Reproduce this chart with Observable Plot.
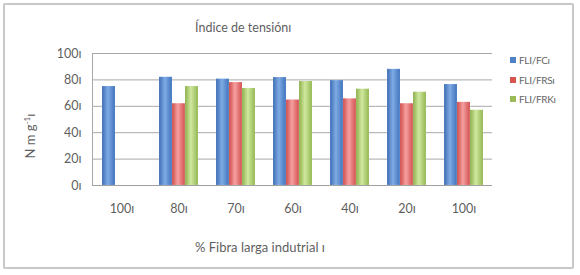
<!DOCTYPE html>
<html><head><meta charset="utf-8">
<script src="https://cdn.jsdelivr.net/npm/d3@7"></script>
<script src="https://cdn.jsdelivr.net/npm/@observablehq/plot@0.6"></script>
<style>
body{margin:0;background:#fff;}
#wrap{position:relative;width:580px;height:275px;font-family:"Lato","DejaVu Sans",sans-serif;color:#5f5f5f;overflow:hidden;}
#border{position:absolute;left:3px;top:3px;width:567px;height:262px;border:2px solid #c8c8c8;border-radius:2px;box-sizing:content-box;}
.t{position:absolute;white-space:nowrap;}
#chart{position:absolute;left:0;top:0;}
.leg{position:absolute;left:510px;font-size:10px;letter-spacing:-0.3px;color:#666;}
.leg span{display:inline-block;width:6px;height:6px;margin-right:3px;vertical-align:1px;}
</style></head><body>
<svg width="0" height="0" style="position:absolute">
  <defs>
    <linearGradient id="gBlue" x1="0" x2="1" y1="0" y2="0">
      <stop offset="0" stop-color="#3c6cb4"/>
      <stop offset="0.45" stop-color="#7fabe4"/>
      <stop offset="1" stop-color="#4073bd"/>
    </linearGradient>
    <linearGradient id="gRed" x1="0" x2="1" y1="0" y2="0">
      <stop offset="0" stop-color="#d04a4a"/>
      <stop offset="0.45" stop-color="#f5a0a0"/>
      <stop offset="1" stop-color="#d35050"/>
    </linearGradient>
    <linearGradient id="gGreen" x1="0" x2="1" y1="0" y2="0">
      <stop offset="0" stop-color="#8cb04a"/>
      <stop offset="0.45" stop-color="#d0e89f"/>
      <stop offset="1" stop-color="#93b751"/>
    </linearGradient>
  </defs>
</svg>
<div id="wrap">
  <div id="chart"></div>
  <div id="border"></div>
  <div class="t" id="title" style="left:195px;top:20px;font-size:12.5px;">Índice de tensiónı</div>
  <div class="t" id="ylab" style="left:30px;top:136px;font-size:13px;transform:translate(-50%,-50%) rotate(-90deg);">N m g<sup style="font-size:8px">-1</sup>ı</div>
  <div class="t" id="xlab" style="left:195px;top:239px;font-size:13px;">% Fibra larga indutrial ı</div>
  <div id="legend"></div>
</div>
<script>
const categories = ["100", "80", "70", "60", "40", "20", "100"];
const seriesNames = ["FLI/FCı", "FLI/FRSı", "FLI/FRKı"];
const fci = [75, 82, 80.6, 81.8, 79.5, 88, 76.5];
const frs = [null, 62, 78, 64.8, 65.7, 62, 63];
const frk = [null, 75, 73.5, 78.8, 73, 70.7, 57];
const yTicks = [0, 20, 40, 60, 80, 100];
const fills = ["url(#gBlue)", "url(#gRed)", "url(#gGreen)"];
const legendColors = ["#4f81c8", "#d9534f", "#9bbb59"];

const seriesValues = [fci, frs, frk];
const idx = categories.map((_, i) => i);

const W = 580, H = 275;
const mL = 92, mR = 88, mT = 53, mB = 90;
const step = (W - mL - mR) / categories.length;
const barW = 13;
const padInner = 1 - barW / step;

const data = seriesValues.map((vals, s) =>
  vals.map((v, i) => ({i, v, s})).filter(d => d.v != null));

const leftLine = (index, scales, values, dims) => {
  const ns = "http://www.w3.org/2000/svg";
  const l = document.createElementNS(ns, "line");
  l.setAttribute("x1", dims.marginLeft + 0.5);
  l.setAttribute("x2", dims.marginLeft + 0.5);
  l.setAttribute("y1", dims.marginTop);
  l.setAttribute("y2", dims.height - dims.marginBottom);
  l.setAttribute("stroke", "#a8a8a8");
  return l;
};

const chart = Plot.plot({
  width: W, height: H,
  marginLeft: mL, marginRight: mR, marginTop: mT, marginBottom: mB,
  style: {fontFamily: "Lato, 'DejaVu Sans', sans-serif", fontSize: "12.5px", color: "#5f5f5f", background: "transparent"},
  x: {domain: idx, padding: padInner, paddingOuter: padInner / 2, label: null,
      tickSize: 0, tickPadding: 19, tickFormat: i => categories[i] + "ı"},
  y: {domain: [0, 100], ticks: yTicks, label: null, tickSize: 0, tickPadding: 11,
      tickFormat: d => d + "ı"},
  marks: [
    Plot.ruleY(yTicks.filter(d => d > 0), {stroke: "#a8a8a8", strokeOpacity: 1}),
    ...data.map((ds, s) => Plot.barY(ds, {
      x: "i", y: "v", dx: (s - 1) * barW, fill: fills[s],
      stroke: "#ffffff", strokeOpacity: 0.25, strokeWidth: 0.5
    })),
    Plot.ruleY([0], {stroke: "#a0a0a0"}),
    leftLine
  ]
});
document.getElementById("chart").appendChild(chart);

const leg = document.getElementById("legend");
const legTops = [54, 74, 93];
seriesNames.forEach((n, s) => {
  const d = document.createElement("div");
  d.className = "leg";
  d.style.top = legTops[s] + "px";
  d.innerHTML = `<span style="background:${legendColors[s]}"></span>${n}`;
  leg.appendChild(d);
});
</script>
</body></html>
